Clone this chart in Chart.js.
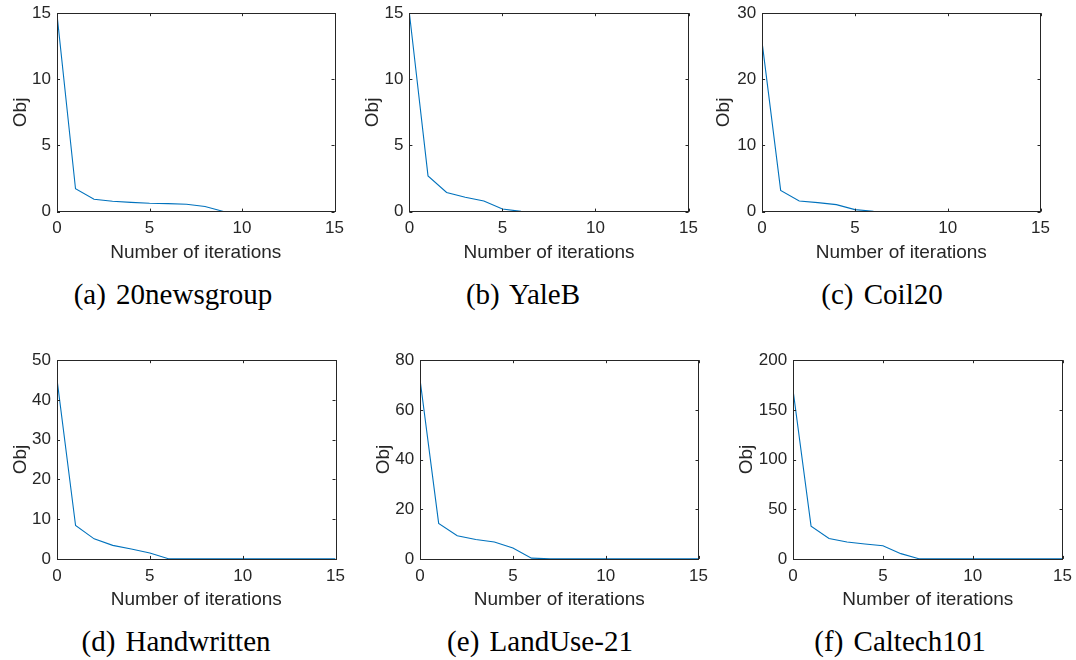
<!DOCTYPE html>
<html><head><meta charset="utf-8">
<script src="https://cdn.jsdelivr.net/npm/chart.js@4.4.1/dist/chart.umd.min.js"></script>
<style>
html,body{margin:0;padding:0;background:#fff;}
#wrap{position:relative;width:1076px;height:660px;overflow:hidden;background:#fff;}
canvas{position:absolute;}
.cap{position:absolute;font-family:"Liberation Serif",serif;font-size:29px;word-spacing:3px;color:#000;white-space:pre;transform:translate(-50%,-50%);line-height:1;}
</style></head><body><div id="wrap"></div>
<script>
// ---- data ----
const iterations = [0,1,2,3,4,5,6,7,8,9,10,11,12,13,14,15];
const obj20newsgroup = [14.9,1.73,0.93,0.78,0.7,0.63,0.6,0.55,0.38,0.01,0,0,0,0,0,0];
const objYaleB       = [15,2.7,1.45,1.08,0.8,0.2,0.02,0,0,0,0,0,0,0,0,0];
const objCoil20      = [25.6,3.2,1.6,1.35,1.05,0.3,0.05,0,0,0,0,0,0,0,0,0];
const objHandwritten = [45.2,8.4,5.05,3.4,2.5,1.5,0.05,0,0,0,0,0,0,0,0,0];
const objLandUse21   = [72,14.3,9.3,7.8,6.8,4.4,0.3,0.02,0,0,0,0,0,0,0,0];
const objCaltech101  = [169.5,33,20.5,17,15,13.3,5.3,0.2,0,0,0,0,0,0,0,0];
const captions = ["(a) 20newsgroup","(b) YaleB","(c) Coil20","(d) Handwritten","(e) LandUse-21","(f) Caltech101"];
const yMaxes = [15,15,30,50,80,200];
const ySteps = [5,5,10,10,20,50];
const xTickStep = 5;
const xTitle = "Number of iterations";
const yTitle = "Obj";
const series = [obj20newsgroup,objYaleB,objCoil20,objHandwritten,objLandUse21,objCaltech101];

// ---- layout (pixels) ----
const layout = [
  {L:57.3,R:335.7,T:11,B:211.3,yT:20.7,xT:252.3,cx:173,cy:293.5},
  {L:409.3,R:689,T:11,B:211.3,yT:372.3,xT:252.3,cx:523,cy:293.5},
  {L:761.7,R:1041,T:10.5,B:211.3,yT:723,xT:252.3,cx:882,cy:293.5},
  {L:57.3,R:336,T:358.3,B:559.3,yT:20.7,xT:600,cx:176,cy:641},
  {L:420,R:699.3,T:358.3,B:559.3,yT:383.3,xT:600,cx:540,cy:641},
  {L:792.7,R:1062.7,T:358.3,B:559.3,yT:746,xT:600,cx:900,cy:641}
];

const AX = '#262626';
const TICKF = {family:'"Liberation Sans", Arial, sans-serif', size:17};
const TITLEF = {family:'"Liberation Sans", Arial, sans-serif', size:19};
const TLH = 19*1.2;

const boxTicks = {
  id:'boxTicks',
  afterDraw(chart){
    const {ctx, chartArea:a, scales:{x,y}} = chart;
    const L = 3;
    ctx.save();
    ctx.strokeStyle = AX; ctx.lineWidth = 1;
    ctx.beginPath();
    x.ticks.forEach(t=>{
      const px = Math.round(x.getPixelForValue(t.value))+0.5;
      ctx.moveTo(px,a.bottom); ctx.lineTo(px,a.bottom-L);
      ctx.moveTo(px,a.top); ctx.lineTo(px,a.top+L);
    });
    y.ticks.forEach(t=>{
      const py = Math.round(y.getPixelForValue(t.value))+0.5;
      ctx.moveTo(a.left,py); ctx.lineTo(a.left+L,py);
      ctx.moveTo(a.right,py); ctx.lineTo(a.right-L,py);
    });
    ctx.stroke();
    ctx.strokeRect(Math.round(a.left)+0.5, Math.round(a.top)+0.5, Math.round(a.right-a.left), Math.round(a.bottom-a.top));
    ctx.restore();
  }
};

const wrap = document.getElementById('wrap');
layout.forEach((g,i)=>{
  const cLeft = g.yT - TLH/2;
  const cTop = g.T - 14;
  const cRight = g.R + 16;
  const cBottom = g.xT + TLH/2;
  const W = Math.round(cRight - cLeft), H = Math.round(cBottom - cTop);
  const yW = g.L - cLeft, xH = cBottom - g.B;
  const cv = document.createElement('canvas');
  cv.width = W; cv.height = H;
  cv.style.left = cLeft+'px'; cv.style.top = cTop+'px';
  cv.style.width = W+'px'; cv.style.height = H+'px';
  wrap.appendChild(cv);
  new Chart(cv, {
    type:'line',
    data:{datasets:[{
      data: iterations.map((it,k)=>({x:it, y:series[i][k]})),
      borderColor:'#0072BD', borderWidth:1.1, pointRadius:0, tension:0, fill:false
    }]},
    options:{
      responsive:false, animation:false, devicePixelRatio:1,
      layout:{padding:{top:14,right:W-(g.R-cLeft),left:0,bottom:0}},
      plugins:{legend:{display:false}, tooltip:{enabled:false}},
      scales:{
        x:{type:'linear', min:0, max:15,
          ticks:{stepSize:xTickStep, color:AX, font:TICKF, padding:7, maxRotation:0},
          grid:{display:false, drawTicks:false}, border:{display:false},
          title:{display:true, text:xTitle, color:AX, font:TITLEF, padding:0},
          afterFit(s){ s.height = xH; }
        },
        y:{type:'linear', min:0, max:yMaxes[i],
          ticks:{stepSize:ySteps[i], color:AX, font:TICKF, padding:6},
          grid:{display:false, drawTicks:false}, border:{display:false},
          title:{display:true, text:yTitle, color:AX, font:TITLEF, padding:0},
          afterFit(s){ s.width = yW; }
        }
      }
    },
    plugins:[boxTicks]
  });
  const d = document.createElement('div');
  d.className = 'cap';
  d.textContent = captions[i];
  d.style.left = g.cx+'px'; d.style.top = g.cy+'px';
  wrap.appendChild(d);
});
</script></body></html>
